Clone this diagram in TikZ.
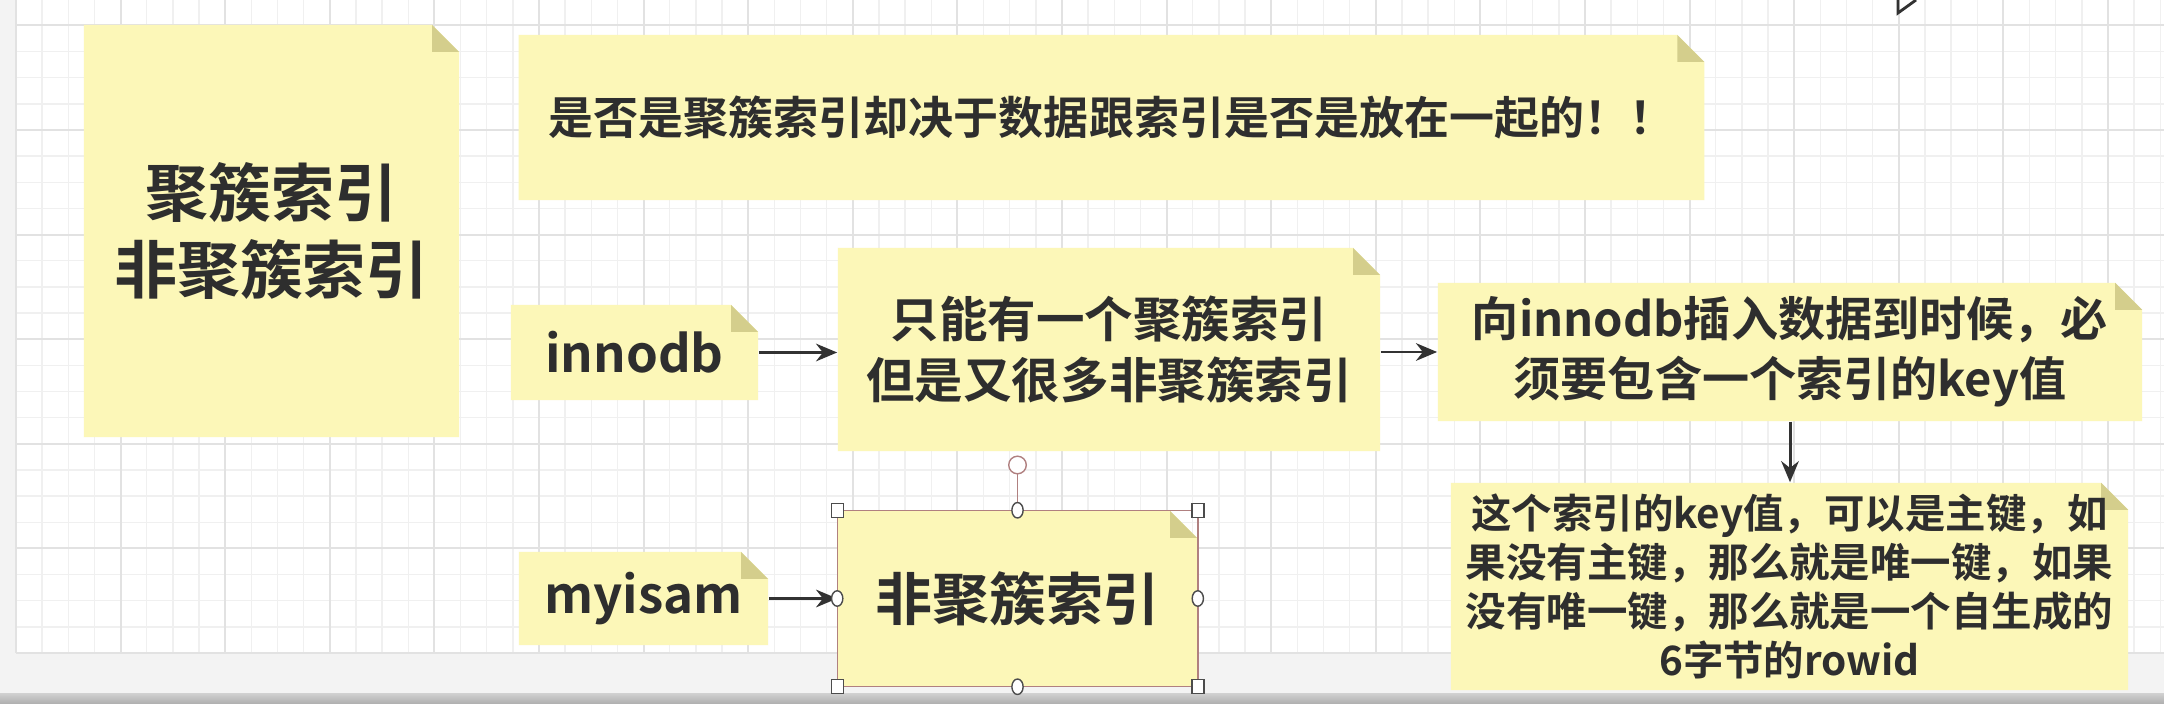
\documentclass[tikz,border=0pt]{standalone}
\usepackage{fontspec}
\usepackage{tikz}
\usetikzlibrary{arrows.meta}
\newfontfamily\cjk{Noto Sans CJK SC Bold}

\definecolor{notefill}{RGB}{252,247,184}
\definecolor{notefold}{RGB}{212,206,140}
\definecolor{txt}{RGB}{46,46,46}
\definecolor{arrc}{RGB}{50,50,50}
\definecolor{gridminor}{RGB}{240,240,240}
\definecolor{gridmajor}{RGB}{226,226,226}
\definecolor{canvas}{RGB}{243,243,243}
\definecolor{selc}{RGB}{176,128,128}

\tikzset{
  note/.style={inner sep=0pt, align=center, text=txt,
    path picture={
      \fill[notefill] (path picture bounding box.south west)
        -- (path picture bounding box.north west)
        -- ([xshift=-0.27cm]path picture bounding box.north east)
        -- ([yshift=-0.27cm]path picture bounding box.north east)
        -- (path picture bounding box.south east) -- cycle;
      \fill[notefold] ([xshift=-0.27cm]path picture bounding box.north east)
        -- ([xshift=-0.27cm,yshift=-0.27cm]path picture bounding box.north east)
        -- ([yshift=-0.27cm]path picture bounding box.north east) -- cycle;
    }},
  arr/.style={draw=arrc, line width=0.85pt, -{Stealth[length=6pt,width=5pt]}},
  hdl/.style={draw=black!70, fill=white, line width=0.4pt},
}

\begin{document}
\begin{tikzpicture}[x=0.01cm, y=-0.01cm]
  \useasboundingbox (0,0) rectangle (2164,704);

  % canvas and grid
  \fill[canvas] (0,0) rectangle (2164,704);
  \fill[white] (16,0) rectangle (2164,653);
  \foreach \i in {0,...,82}
    \draw[gridminor, line width=0.4pt] ({16+26.15*\i},0) -- ({16+26.15*\i},653);
  \foreach \j in {0,...,24}
    \draw[gridminor, line width=0.4pt] (16,{653-26.15*\j}) -- (2164,{653-26.15*\j});
  \foreach \i in {0,...,20}
    \draw[gridmajor, line width=0.6pt] ({16+104.6*\i},0) -- ({16+104.6*\i},653);
  \foreach \j in {0,...,6}
    \draw[gridmajor, line width=0.6pt] (16,{653-104.6*\j}) -- (2164,{653-104.6*\j});
  \shade[top color=black!18, bottom color=black!32] (0,693) rectangle (2164,704);
  \draw[arrc, line width=0.8pt] (1898,0) -- (1898,13) -- (1916,0);

  % notes
  \node[note, minimum width=3.75cm, minimum height=4.12cm,
        font=\cjk\fontsize{17.9}{21.9}\selectfont]
        (kinds) at (271.5,231) {聚簇索引\\非聚簇索引};
  \node[note, minimum width=11.85cm, minimum height=1.65cm,
        font=\cjk\fontsize{12.8}{15}\selectfont]
        (decide) at (1111.5,117.5) {是否是聚簇索引却决于数据跟索引是否是放在一起的！！};
  \node[note, minimum width=2.47cm, minimum height=0.95cm,
        font=\cjk\fontsize{14.5}{17}\selectfont]
        (innodb) at (634.5,352.5) {innodb};
  \node[note, minimum width=5.42cm, minimum height=2.03cm,
        font=\cjk\fontsize{13.8}{17.1}\selectfont]
        (onlyone) at (1109,349.5) {只能有一个聚簇索引\\但是又很多非聚簇索引};
  \node[note, minimum width=7.04cm, minimum height=1.38cm,
        font=\cjk\fontsize{13.4}{17.1}\selectfont]
        (insert) at (1790,352) {向innodb插入数据到时候，必\\须要包含一个索引的key值};
  \node[note, minimum width=6.77cm, minimum height=2.07cm,
        font=\cjk\fontsize{11.5}{13.9}\selectfont]
        (keyval) at (1789.5,586.5) {这个索引的key值，可以是主键，如\\果没有主键，那么就是唯一键，如果\\没有唯一键，那么就是一个自生成的\\6字节的rowid};
  \node[note, minimum width=2.49cm, minimum height=0.93cm,
        font=\cjk\fontsize{14.5}{17}\selectfont]
        (myisam) at (643.5,598.5) {myisam};
  \node[note, minimum width=3.59cm, minimum height=1.75cm,
        font=\cjk\fontsize{16.2}{19}\selectfont]
        (nonclu) at (1017.5,598.5) {非聚簇索引};

  % connectors
  \draw[arr] (innodb.east) -- (innodb.east -| onlyone.west);
  \draw[arr] (onlyone.east |- insert.west) -- (insert.west);
  \draw[arr] (insert.south) -- (keyval.north -| insert.south);
  \draw[arr] (myisam.east) -- (myisam.east -| nonclu.west);

  % selection handles
  \draw[selc, line width=0.4pt] (nonclu.north west) rectangle (nonclu.south east);
  \draw[selc, line width=0.5pt] (nonclu.north) -- ++(0,-37);
  \draw[hdl, draw=selc] (1017.5,465) circle[radius=2.5pt];
  \foreach \a in {north west, north east, south west, south east}
    \draw[hdl] (nonclu.\a) +(-6,-7) rectangle +(6,7);
  \foreach \a in {north, south, west, east}
    \draw[hdl] (nonclu.\a) ellipse[x radius=1.6pt, y radius=2.2pt];
\end{tikzpicture}
\end{document}
